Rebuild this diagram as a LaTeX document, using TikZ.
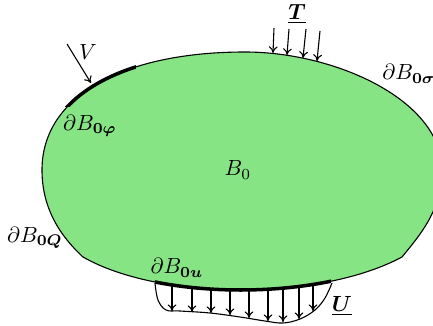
\documentclass[tikz,border=0pt]{standalone}
\usepackage{bm}
\usetikzlibrary{arrows.meta}

\definecolor{bodygreen}{RGB}{134,228,132}

\newcommand{\bodyoutline}{%
  (83,257) .. controls (57,233) and (42,205) .. (42,170)
  .. controls (42,95) and (125,52) .. (245,52)
  .. controls (335,52) and (442,100) .. (442,170)
  .. controls (442,210) and (420,235) .. (402,257)
  .. controls (320,301) and (160,301) .. (83,257) -- cycle}

\begin{document}
\begin{tikzpicture}[
  x=0.016cm, y=-0.016cm,
  outline/.style = {draw=black, line width=0.5pt, fill=bodygreen},
  bound/.style   = {line width=1.6pt},
  arr/.style     = {-{To[length=3pt,width=4pt]}, black, line width=0.5pt},
  lbl/.style     = {inner sep=1pt}
]
\useasboundingbox (0,0) rectangle (433,326);

% body
\path[outline] \bodyoutline;

% thick parts of the boundary
\begin{scope}
  \clip (50,66) rectangle (136,107);
  \draw[bound] \bodyoutline;
\end{scope}
\begin{scope}
  \clip (155,270) rectangle (331,300);
  \draw[bound] \bodyoutline;
\end{scope}

% labels
\node[lbl] (body)  at (238,170) {$B_0$};
\node[lbl] (phi)   at (90,126)  {$\partial B_{\bm{0\varphi}}$};
\node[lbl] (sigma) at (409,74)  {$\partial B_{\bm{0\sigma}}$};
\node[lbl] (bq)    at (35,238)  {$\partial B_{\bm{0Q}}$};
\node[lbl] (bu)    at (177,268) {$\partial B_{\bm{0u}}$};
\node[lbl] (vlab)  at (88,52)   {$V$};
\node[lbl] (tlab)  at (297,14)  {$\underline{\bm{T}}$};
\node[lbl] (ulab)  at (342,306) {$\underline{\bm{U}}$};

% flux V
\coordinate (v0) at (67,44);
\coordinate (v1) at (91,83);
\draw[arr] (v0) -- (v1);

% traction T
\foreach \xa/\xb/\ya/\yb [count=\i] in {274/273/28/53, 289/287/29/55, 306/303/29/58, 320/317/31/61}{
  \coordinate (ta\i) at (\xa,\ya);
  \coordinate (tb\i) at (\xb,\yb);
  \draw[arr] (ta\i) -- (tb\i);
}

% displacement U
\draw[line width=0.5pt] plot[smooth, tension=0.6] coordinates {(155,283) (158,300) (166,310)
  (180,311) (210,313) (240,317) (265,321) (283,323) (300,319) (315,310) (325,298) (332,283)};
\foreach \x/\ya/\yb [count=\i] in {172/286/311, 192/288/312, 211/289/313, 230/290/315,
                                   249/289/318, 268/288/321, 283/287/322, 299/286/319, 313/284/311}{
  \coordinate (ua\i) at (\x,\ya);
  \coordinate (ub\i) at (\x,\yb);
  \draw[arr] (ua\i) -- (ub\i);
}

\end{tikzpicture}
\end{document}
